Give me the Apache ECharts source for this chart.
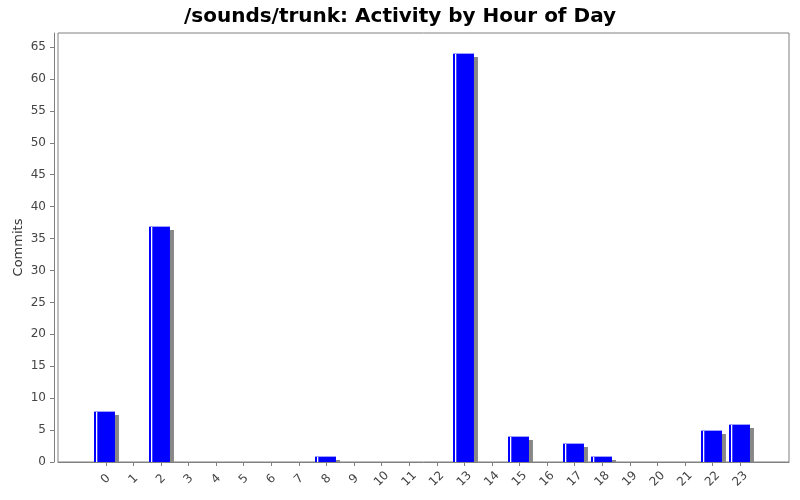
<!DOCTYPE html>
<html>
<head>
<meta charset="utf-8">
<script src="https://cdn.jsdelivr.net/npm/echarts@6/dist/echarts.min.js"></script>
<style>
  html, body { margin: 0; padding: 0; background: #fff; }
  #chart { width: 800px; height: 500px; }
</style>
</head>
<body>
<div id="chart"></div>
<script>
const hours = ['0', '1', '2', '3', '4', '5', '6', '7', '8', '9', '10', '11',
    '12', '13', '14', '15', '16', '17', '18', '19', '20', '21', '22', '23'];
const commits = [8, 0, 37, 0, 0, 0, 0, 0, 1, 0, 0, 0, 0, 64, 0, 4, 0, 3, 1, 0, 0, 0, 5, 6];
const yTicks = [0, 5, 10, 15, 20, 25, 30, 35, 40, 45, 50, 55, 60, 65];
const yMax = 67.2;

const font = 'DejaVu Sans';
const chart = echarts.init(document.getElementById('chart'));

function renderBar(params, api) {
    const v = api.value(1);
    if (!v) {
        return;
    }
    const top = api.coord([api.value(0), v]);
    const base = api.coord([api.value(0), 0]);
    const w = api.size([1, 0])[0] * 0.76;
    const left = Math.round(top[0] - w / 2) - 1;
    const y = Math.round(top[1]);
    const h = Math.round(base[1]) - y;
    return {
        type: 'group',
        children: [
            {
                type: 'rect',
                shape: { x: left + 4, y: y + 4, width: w, height: h - 4 },
                style: { fill: '#888888' }
            },
            {
                type: 'rect',
                shape: { x: left, y: y, width: w, height: h },
                style: { fill: '#0000ff' }
            },
            {
                type: 'rect',
                shape: { x: left, y: y, width: w, height: 1 },
                style: { fill: '#a0a0ff' }
            },
            {
                type: 'rect',
                shape: { x: left + 2, y: y + 1, width: 1.3, height: h - 1 },
                style: { fill: '#ffffff' }
            }
        ]
    };
}

chart.setOption({
    animation: false,
    backgroundColor: '#ffffff',
    title: {
        text: '/sounds/trunk: Activity by Hour of Day',
        left: 'center',
        top: 2,
        textStyle: { fontFamily: font, fontSize: 20, fontWeight: 'bold', color: '#000' }
    },
    grid: [
        // frame
        { left: 58, right: 11, top: 33, bottom: 38, show: true, borderColor: '#808080', borderWidth: 1, backgroundColor: '#fff' },
        // data area
        { left: 92, right: 46, top: 33, bottom: 38 }
    ],
    xAxis: [
        {
            gridIndex: 0,
            type: 'value',
            min: 0,
            max: 1,
            offset: 4,
            axisLine: { show: true, lineStyle: { color: '#808080' } },
            axisTick: { show: false },
            axisLabel: { show: false },
            splitLine: { show: false }
        },
        {
            gridIndex: 1,
            type: 'category',
            data: hours,
            offset: 4,
            axisLine: { show: false },
            axisTick: { show: true, alignWithLabel: true, length: 4, lineStyle: { color: '#808080' } },
            axisLabel: {
                rotate: 45,
                align: 'center',
                verticalAlign: 'middle',
                margin: 13,
                interval: 0,
                fontFamily: font,
                fontSize: 12,
                color: '#444'
            }
        }
    ],
    yAxis: [
        { gridIndex: 0, type: 'value', show: false, min: 0, max: 1 },
        {
            gridIndex: 1,
            type: 'value',
            min: 0,
            max: yMax,
            offset: 38,
            name: 'Commits',
            nameLocation: 'middle',
            nameGap: 29,
            nameMoveOverlap: false,
            nameTextStyle: { fontFamily: font, fontSize: 13, color: '#333', padding: [0, 0, 0, 0] },
            axisLine: { show: true, lineStyle: { color: '#808080' } },
            axisTick: { show: true, length: 4, customValues: yTicks, lineStyle: { color: '#808080' } },
            axisLabel: { customValues: yTicks, margin: 8, fontFamily: font, fontSize: 12, color: '#444' },
            splitLine: { show: false }
        }
    ],
    series: [{
        type: 'custom',
        xAxisIndex: 1,
        yAxisIndex: 1,
        renderItem: renderBar,
        data: commits.map((v, i) => [i, v])
    }]
});
</script>
</body>
</html>
